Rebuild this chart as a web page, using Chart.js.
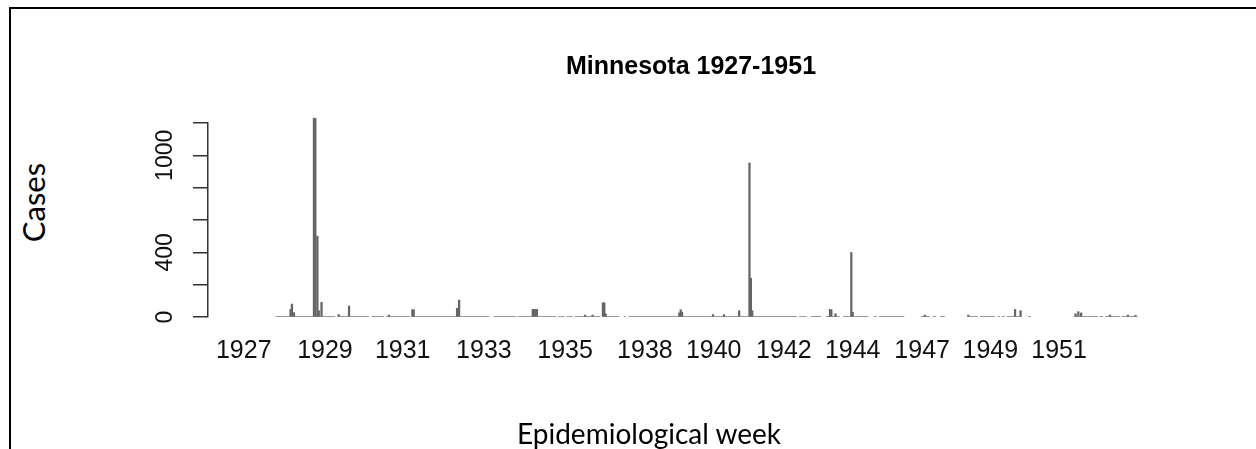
<!DOCTYPE html>
<html><head><meta charset="utf-8">
<script src="https://cdn.jsdelivr.net/npm/chart.js@4"></script>
<style>
html,body{margin:0;padding:0;background:#fff;width:1256px;height:449px;overflow:hidden;position:relative}
#frame{position:absolute;left:9px;top:7px;width:1300px;height:500px;border-top:2px solid #000;border-left:2px solid #000;box-sizing:border-box}
#chart{position:absolute;left:136px;top:0}
.lbl{position:absolute;font-family:Lato,"Open Sans",sans-serif;color:#000;white-space:nowrap}
#ytitle{font-size:31px;line-height:31px;left:-27px;top:187px;width:120px;text-align:center;transform:rotate(-90deg)}
#xtitle{font-size:28px;line-height:28px;left:517px;top:419px}
</style></head>
<body>
<div id="frame"></div>
<canvas id="chart" width="1110" height="449"></canvas>
<div class="lbl" id="ytitle">Cases</div>
<div class="lbl" id="xtitle">Epidemiological week</div>
<script>
// Tick labels on the week axis (year of the labelled bar) and the bar index they sit on
const yearLabels = ['1927','1929','1931','1933','1935','1938','1940','1942','1944','1947','1949','1951'];
const labelBars  = [0,118,231,349,467,583,683,785,885,986,1085,1185];

// Weeks (bar index) with non-zero cases, and the case counts
const spikeWeeks = [68,70,73,102,104,107,109,113,138,153,211,245,247,310,313,420,422,424,426,496,507,522,524,526,633,635,637,682,698,720,735,737,739,852,854,860,883,885,990,1053,1121,1129,1209,1213,1217,1259,1285,1296];
const spikeCases = [47,80,27,1230,1228,500,39,91,15,68,12,45,45,54,105,47,47,45,47,12,12,88,88,20,25,45,30,15,15,39,953,240,39,47,45,20,399,29,12,12,47,39,20,33,25,12,12,10];

// Runs of reported weeks (zero baseline drawn), gaps = not reported
const reportedStart = [46,136,186,207,244,363,398,457,469,481,521,552,559,807,824,846,871,916,923,984,1001,1012,1052,1070,1096,1102,1109,1140,1206,1244,1252,1276];
const reportedEnd   = [133,182,204,242,357,396,454,466,478,518,546,555,804,818,839,866,908,920,960,997,1006,1019,1067,1092,1099,1106,1131,1144,1242,1249,1274,1299];

// Y axis
const yMin = 0, yMax = 1200, yStep = 200;
const yLabeled = [0, 400, 1000];

const barData = spikeWeeks.map((w, i) => ({x: w, y: spikeCases[i]}));
const baseData = [];
reportedStart.forEach((s, i) => {
  baseData.push({x: s, y: 0}, {x: reportedEnd[i], y: 0}, {x: reportedEnd[i] + 1, y: null});
});

new Chart(document.getElementById('chart'), {
  data: {
    datasets: [
      {type: 'line', data: baseData, borderColor: '#7a7a7a', borderWidth: 1.6, pointRadius: 0, spanGaps: false, tension: 0, order: 2},
      {type: 'bar', data: barData, backgroundColor: '#666666', borderWidth: 0, barThickness: 1.6, clip: false, order: 1}
    ]
  },
  options: {
    responsive: false,
    animation: false,
    events: [],
    layout: {padding: 0},
    plugins: {
      legend: {display: false},
      tooltip: {enabled: false},
      title: {
        display: true,
        text: 'Minnesota 1927-1951',
        color: '#000',
        font: {family: '"Liberation Sans", Arial, sans-serif', size: 25, weight: 'bold', lineHeight: 1.2},
        padding: {top: 52, bottom: 41}
      }
    },
    scales: {
      x: {
        type: 'linear',
        offset: false,
        min: -52, max: 1352,
        grid: {display: false, drawTicks: false, offset: false},
        border: {display: false},
        afterBuildTicks: (s) => { s.ticks = labelBars.map(v => ({value: v})); },
        afterFit: (s) => { s.height = 132; },
        ticks: {
          autoSkip: false, maxRotation: 0, minRotation: 0, padding: 19,
          color: '#111',
          font: {family: '"Liberation Sans", Arial, sans-serif', size: 25},
          callback: (v) => { const k = labelBars.indexOf(v); return k >= 0 ? yearLabels[k] : ''; }
        }
      },
      y: {
        type: 'linear',
        position: 'left',
        min: yMin, max: yMax,
        afterFit: (s) => { s.width = 72; },
        grid: {display: true, drawOnChartArea: false, drawTicks: true, tickLength: 15, color: '#333', lineWidth: 1.5},
        border: {display: true, color: '#333', width: 1.5},
        ticks: {
          stepSize: yStep, autoSkip: false, minRotation: 90, maxRotation: 90, crossAlign: 'center', padding: 2,
          color: '#111',
          font: {family: '"Liberation Sans", Arial, sans-serif', size: 23},
          callback: (v) => yLabeled.includes(v) ? String(v) : ''
        }
      },
      yRightSpace: {
        type: 'linear',
        position: 'right',
        display: true,
        min: yMin, max: yMax,
        afterFit: (s) => { s.width = 72; },
        grid: {display: false, drawTicks: false},
        border: {display: false},
        ticks: {display: false}
      }
    }
  }
});
</script>
</body></html>
